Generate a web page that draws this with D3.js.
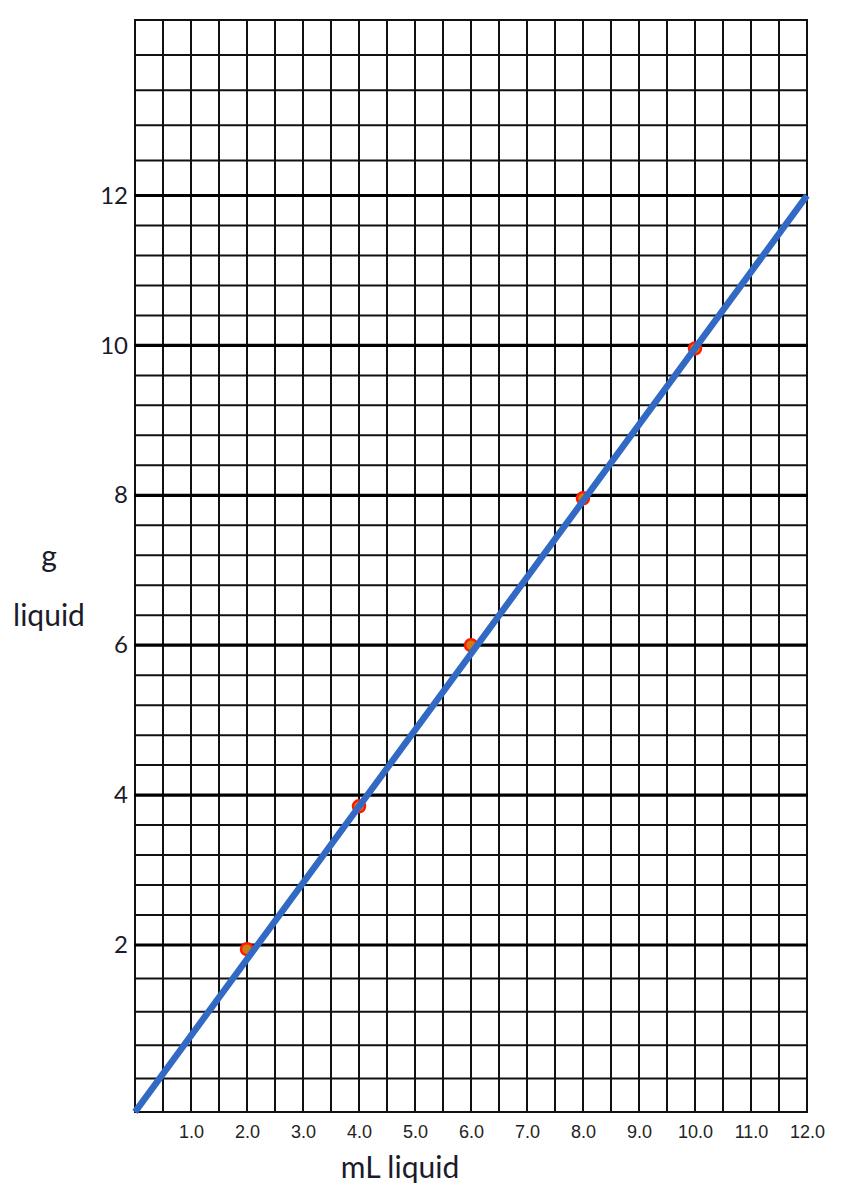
<!DOCTYPE html>
<html>
<head>
<meta charset="utf-8">
<script src="https://cdn.jsdelivr.net/npm/d3@7"></script>
<style>
  html, body { margin: 0; padding: 0; background: #fff; }
  svg { display: block; }
</style>
</head>
<body>
<svg id="chart" width="846" height="1200"></svg>
<script>
// ---- data ----
const xTickValues = [1, 2, 3, 4, 5, 6, 7, 8, 9, 10, 11, 12];
const yTickValues = [2, 4, 6, 8, 10, 12];
const volumeML = [2.0, 4.0, 6.0, 8.0, 10.0];
const massG = [1.95, 3.85, 6.0, 7.96, 9.96];
const fitX = [0, 12];
const fitY = [0, 12];
const xLabel = "mL liquid";
const yLabelTop = "g";
const yLabelBottom = "liquid";

// ---- layout ----
const svg = d3.select("#chart");
const plotL = 135, plotR = 807, plotT = 20, plotB = 1112;

const x = d3.scaleLinear().domain([0, 12]).range([plotL, plotR]);
// graph paper is not perfectly even: bottom and top bands are stretched
const y = d3.scaleLinear().domain([0, 2, 12, 14]).range([plotB, 945, 195.5, plotT]);

const vLines = d3.range(0, 12.001, 0.5);
const hLines = d3.range(0, 36).map(i => +(i * 0.4).toFixed(1));
const isMajor = d => d > 0 && d <= 12 && Math.abs(d / 2 - Math.round(d / 2)) < 1e-6;

const grid = svg.append("g");
grid.selectAll("line.v").data(vLines).join("line")
  .attr("class", "v")
  .attr("x1", d => x(d)).attr("x2", d => x(d))
  .attr("y1", y(14)).attr("y2", y(0))
  .attr("stroke", "#111").attr("stroke-width", 2);
grid.selectAll("line.h").data(hLines).join("line")
  .attr("class", "h")
  .attr("x1", x(0) - 1).attr("x2", x(12) + 1)
  .attr("y1", d => y(d)).attr("y2", d => y(d))
  .attr("stroke", d => isMajor(d) ? "#000" : "#111")
  .attr("stroke-width", d => isMajor(d) ? 3.2 : 2);

// y tick labels
const yAxis = svg.append("g")
  .attr("transform", `translate(${plotL},0)`)
  .call(d3.axisLeft(y).tickValues(yTickValues).tickSize(0).tickPadding(7).tickFormat(d3.format("d")));
yAxis.select(".domain").remove();
yAxis.selectAll("text")
  .attr("font-family", "Lato, 'Open Sans', sans-serif")
  .attr("font-size", 24)
  .attr("fill", "#1b1b2b");

// x tick labels
const xAxis = svg.append("g")
  .attr("transform", `translate(0,${plotB})`)
  .call(d3.axisBottom(x).tickValues(xTickValues).tickSize(0).tickPadding(13).tickFormat(d3.format(".1f")));
xAxis.select(".domain").remove();
xAxis.selectAll("text")
  .attr("font-family", "'Liberation Sans Narrow', 'Arial Narrow', 'Liberation Sans', sans-serif")
  .attr("font-size", 18)
  .attr("fill", "#222");

// data points (beneath the line)
const pts = volumeML.map((v, i) => ({ v, m: massG[i] }));
svg.append("g").selectAll("circle").data(pts).join("circle")
  .attr("cx", d => x(d.v)).attr("cy", d => y(d.m))
  .attr("r", 6)
  .attr("fill", "#cf7c12")
  .attr("stroke", "#ff1a00")
  .attr("stroke-width", 2.5);

// fit line
const fit = fitX.map((v, i) => [v, fitY[i]]);
svg.append("path")
  .datum(fit)
  .attr("d", d3.line().x(d => x(d[0])).y(d => y(d[1])))
  .attr("fill", "none")
  .attr("stroke", "#3169c4")
  .attr("stroke-width", 6.5)
  .attr("stroke-linecap", "butt");

// axis titles
const titleFont = "Lato, 'Open Sans', sans-serif";
svg.append("text")
  .attr("x", 400).attr("y", 1178)
  .attr("text-anchor", "middle")
  .attr("font-family", titleFont).attr("font-size", 30)
  .attr("fill", "#1b1b2b")
  .text(xLabel);
svg.append("text")
  .attr("x", 49).attr("y", 567)
  .attr("text-anchor", "middle")
  .attr("font-family", titleFont).attr("font-size", 30)
  .attr("fill", "#1b1b2b")
  .text(yLabelTop);
svg.append("text")
  .attr("x", 49).attr("y", 626)
  .attr("text-anchor", "middle")
  .attr("font-family", titleFont).attr("font-size", 30)
  .attr("fill", "#1b1b2b")
  .text(yLabelBottom);
</script>
</body>
</html>
